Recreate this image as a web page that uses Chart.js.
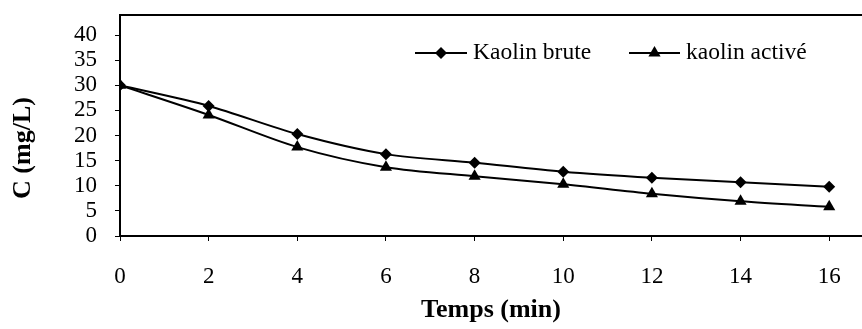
<!DOCTYPE html>
<html>
<head>
<meta charset="utf-8">
<script src="https://cdn.jsdelivr.net/npm/chart.js@4/dist/chart.umd.min.js"></script>
<style>
  html, body { margin: 0; padding: 0; background: #fff; }
  #wrap { width: 862px; height: 329px; }
</style>
</head>
<body>
<div id="wrap"><canvas id="graph" width="862" height="329"></canvas></div>
<script>
// temps (min) and concentrations (mg/L)
var temps = [0, 2, 4, 6, 8, 10, 12, 14, 16];
var kaolinBrute = [30, 25.9, 20.3, 16.3, 14.6, 12.8, 11.6, 10.7, 9.8];
var kaolinActive = [30, 24.1, 17.7, 13.7, 11.9, 10.3, 8.4, 6.9, 5.8];
var serieNames = ["Kaolin brute", "kaolin activé"];
var yTitle = "C (mg/L)";
var xTitle = "Temps (min)";

var serif = "'Liberation Serif', 'Times New Roman', serif";

var toPoints = function(xs, ys) {
  return xs.map(function(x, i) { return {x: x, y: ys[i]}; });
};

// small diamond / triangle markers for the legend
var drawMarker = function(ctx, style, x, y) {
  ctx.beginPath();
  if (style === "rectRot") {
    ctx.moveTo(x - 6, y);
    ctx.lineTo(x, y - 6);
    ctx.lineTo(x + 6, y);
    ctx.lineTo(x, y + 6);
  } else {
    ctx.moveTo(x, y - 7);
    ctx.lineTo(x + 6.1, y + 3.5);
    ctx.lineTo(x - 6.1, y + 3.5);
  }
  ctx.closePath();
  ctx.fill();
};

// legend sits inside the plot, top right
var insideLegend = {
  id: "insideLegend",
  afterDraw: function(chart) {
    var ctx = chart.ctx;
    var items = [
      {x0: 415, x1: 467, tx: 473, style: "rectRot", label: chart.data.datasets[0].label},
      {x0: 629, x1: 680, tx: 686, style: "triangle", label: chart.data.datasets[1].label}
    ];
    var y = 53;
    ctx.save();
    ctx.strokeStyle = "#000";
    ctx.fillStyle = "#000";
    ctx.lineWidth = 2;
    ctx.font = "23.5px " + serif;
    ctx.textBaseline = "alphabetic";
    ctx.textAlign = "left";
    items.forEach(function(it) {
      ctx.beginPath();
      ctx.moveTo(it.x0, y);
      ctx.lineTo(it.x1, y);
      ctx.stroke();
      drawMarker(ctx, it.style, (it.x0 + it.x1) / 2, y);
      ctx.fillText(it.label, it.tx, y + 6);
    });
    ctx.restore();
  }
};

// vertical axis title, placed a bit below the axis middle
var yAxisTitle = {
  id: "yAxisTitle",
  afterDraw: function(chart) {
    var ctx = chart.ctx;
    ctx.save();
    ctx.translate(23, 148);
    ctx.rotate(-Math.PI / 2);
    ctx.font = "bold 26px " + serif;
    ctx.fillStyle = "#000";
    ctx.textAlign = "center";
    ctx.textBaseline = "middle";
    ctx.fillText(yTitle, 0, 0);
    ctx.restore();
  }
};

var graph = document.getElementById("graph").getContext("2d");
var myChart = new Chart(graph, {
  type: "line",
  data: {
    datasets: [{
      label: serieNames[0],
      data: toPoints(temps, kaolinBrute),
      borderColor: "#000",
      backgroundColor: "#000",
      borderWidth: 2,
      tension: 0.3,
      pointStyle: "rectRot",
      pointRadius: 6,
      pointBorderWidth: 0,
      order: 1
    }, {
      label: serieNames[1],
      data: toPoints(temps, kaolinActive),
      borderColor: "#000",
      backgroundColor: "#000",
      borderWidth: 2,
      tension: 0.3,
      pointStyle: "triangle",
      pointRadius: 7,
      pointBorderWidth: 0,
      order: 0
    }]
  },
  options: {
    responsive: false,
    animation: false,
    layout: {autoPadding: false, padding: {left: 0, right: 0, top: 15, bottom: 0}},
    plugins: {
      legend: {display: false},
      tooltip: {enabled: false}
    },
    scales: {
      x: {
        type: "linear",
        position: "bottom",
        min: 0,
        max: 16.74,
        afterFit: function(scale) {
          scale.height = 93;
          scale.paddingLeft = 0;
          scale.paddingRight = 0;
        },
        ticks: {
          stepSize: 2,
          includeBounds: false,
          autoSkip: false,
          color: "#000",
          padding: 22,
          maxRotation: 0,
          font: {family: serif, size: 23}
        },
        grid: {drawOnChartArea: false, drawTicks: true, tickLength: 5, color: "#000", lineWidth: 1},
        border: {display: true, color: "#000", width: 2},
        title: {
          display: true,
          text: xTitle,
          color: "#000",
          padding: {top: 0, bottom: 3},
          font: {family: serif, size: 26, weight: "bold"}
        }
      },
      xTop: {
        type: "linear",
        position: "top",
        min: 0,
        max: 16.74,
        afterFit: function(scale) {
          scale.height = 0;
          scale.paddingLeft = 0;
          scale.paddingRight = 0;
        },
        ticks: {display: false},
        grid: {display: false, drawTicks: false},
        border: {display: true, color: "#000", width: 2}
      },
      y: {
        min: 0,
        max: 44,
        afterFit: function(scale) {
          scale.width = 120;
          scale.paddingTop = 0;
          scale.paddingBottom = 0;
        },
        ticks: {
          stepSize: 5,
          includeBounds: false,
          autoSkip: false,
          color: "#000",
          padding: 18,
          font: {family: serif, size: 23}
        },
        grid: {drawOnChartArea: false, drawTicks: true, tickLength: 5, color: "#000", lineWidth: 1},
        border: {display: true, color: "#000", width: 2}
      }
    }
  },
  plugins: [insideLegend, yAxisTitle]
});
</script>
</body>
</html>
